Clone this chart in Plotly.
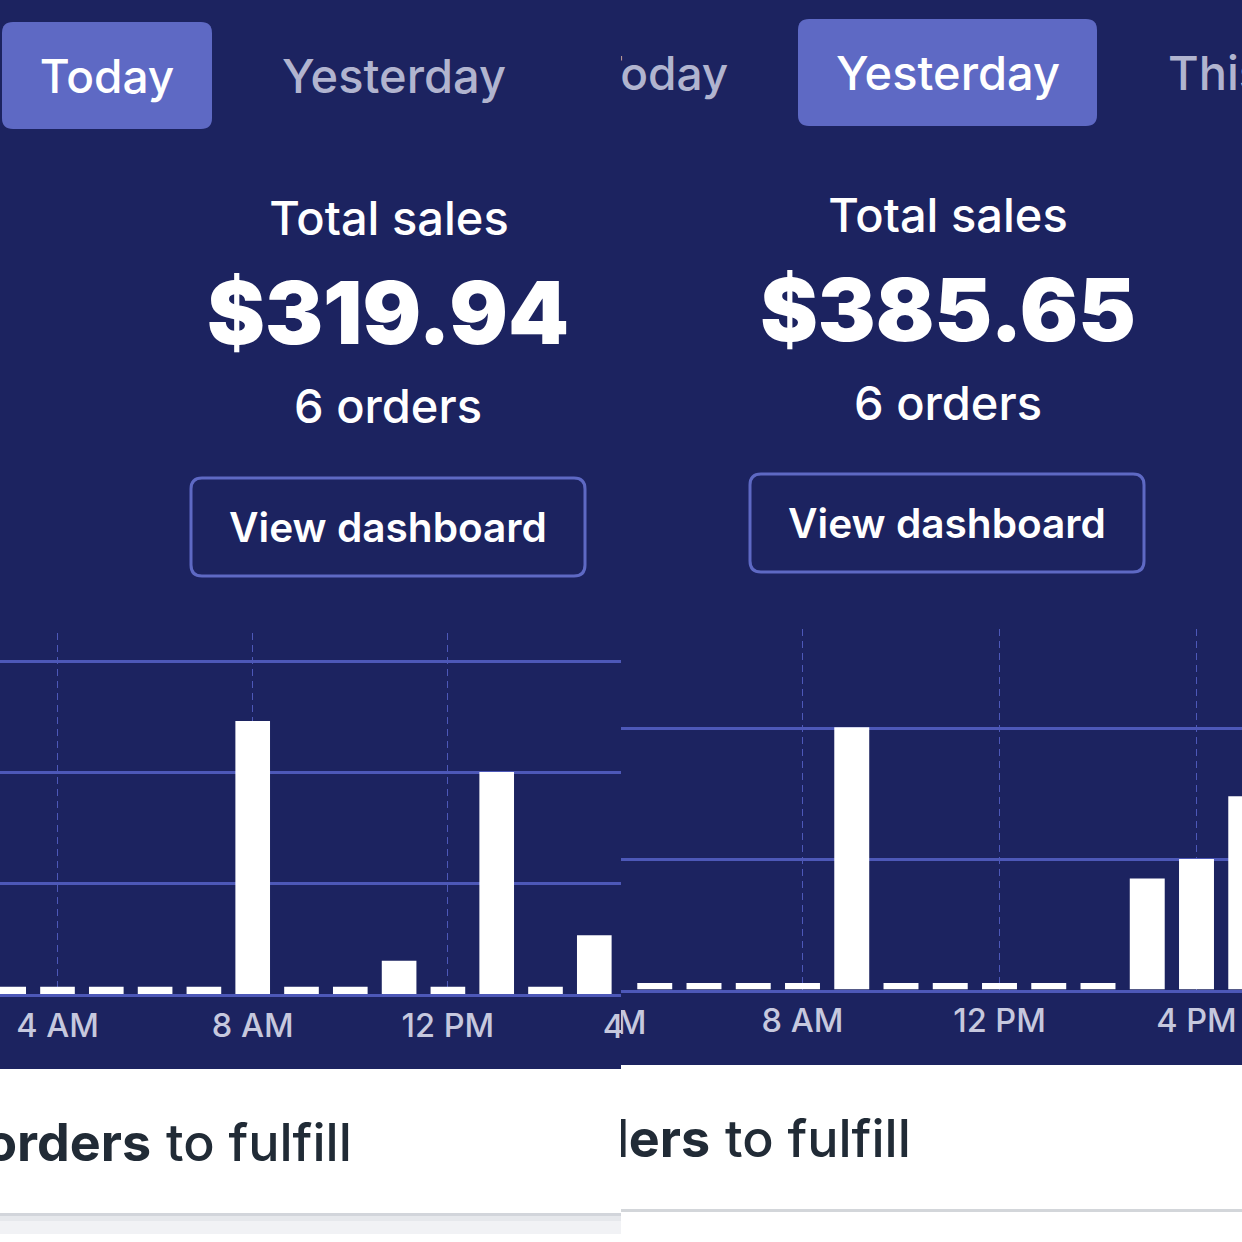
import plotly.graph_objects as go

# values
left_hours = [3, 4, 5, 6, 7, 8, 9, 10, 11, 12, 13, 14, 15]
left_sales = [3.3, 3.3, 3.3, 3.3, 3.3, 123, 3.3, 3.3, 15, 3.3, 100, 3.3, 26.5]
right_hours = [5, 6, 7, 8, 9, 10, 11, 12, 13, 14, 15, 16, 17]
right_sales = [2.5, 2.5, 2.5, 2.5, 100.5, 2.5, 2.5, 2.5, 2.5, 2.5, 42.5, 50, 74]

left_ticks = [4, 8, 12]
left_ticktext = ["4 AM", "8 AM", "12 PM"]
right_ticks = [8, 12, 16]
right_ticktext = ["8 AM", "12 PM", "4 PM"]
left_grid = [50, 100, 150]
right_grid = [50, 100]

NAVY = "#1c2360"
PILL = "#5e69c4"
GRID = "#4d58b8"
MUTED = "#b1b4cf"
DARK = "#212b36"
TICK = "#c6c8de"
W = 1242


def px_y(p):
    return 1 - p / W


def rounded(x0, y0, x1, y1, r):
    return (f"M {x0+r} {y0} L {x1-r} {y0} Q {x1} {y0} {x1} {y0+r} L {x1} {y1-r} Q {x1} {y1} {x1-r} {y1} "
            f"L {x0+r} {y1} Q {x0} {y1} {x0} {y1-r} L {x0} {y0+r} Q {x0} {y0} {x0+r} {y0} Z")


fig = go.Figure()


def add_text(axis, x, y, text, size, color="white", weight=500, pos="middle center"):
    # text as a trace so that it gets cut off at the panel edge like the screenshot
    xa, ya = axis
    fig.add_trace(go.Scatter(x=[x], y=[y], mode="text", text=[text], textposition=pos,
                             textfont=dict(size=size, color=color, family="Inter", weight=weight),
                             cliponaxis=True, xaxis=xa, yaxis=ya, showlegend=False, hoverinfo="skip"))


LEFT = ("x", "y")
RIGHT = ("x2", "y2")

add_text(LEFT, 107, 81, "Today", 46)
add_text(LEFT, 394, 81, "Yesterday", 47, MUTED)
add_text(LEFT, 389, 223, "Total sales", 47)
add_text(LEFT, 388, 322, "$319.94", 87, weight=900)
add_text(LEFT, 388, 411, "6 orders", 47)
add_text(LEFT, 388, 532, "View dashboard", 40.6, weight=600)
add_text(LEFT, 643, 1030, "4 PM", 32.5, TICK)
add_text(LEFT, 151, 1148, "6 orders", 52, DARK, weight=700, pos="middle left")
add_text(LEFT, 166, 1148, "to fulfill", 52, DARK, pos="middle right")

add_text(RIGHT, 661, 78, "Today", 46, MUTED)
add_text(RIGHT, 948, 78, "Yesterday", 47)
add_text(RIGHT, 1168, 78, "This week", 47, MUTED, pos="middle right")
add_text(RIGHT, 948, 220, "Total sales", 47)
add_text(RIGHT, 948, 319, "$385.65", 86.5, weight=900)
add_text(RIGHT, 948, 408, "6 orders", 47)
add_text(RIGHT, 947, 528, "View dashboard", 40.6, weight=600)
add_text(RIGHT, 605, 1026, "4 AM", 32.5, TICK)
add_text(RIGHT, 710, 1144, "6 orders", 52, DARK, weight=700, pos="middle left")
add_text(RIGHT, 725, 1144, "to fulfill", 52, DARK, pos="middle right")

# bars
fig.add_trace(go.Bar(x=left_hours, y=left_sales, marker=dict(color="white", line_width=0), width=0.71,
                     xaxis="x3", yaxis="y3", showlegend=False))
fig.add_trace(go.Bar(x=right_hours, y=right_sales, marker=dict(color="white", line_width=0), width=0.71,
                     xaxis="x4", yaxis="y4", showlegend=False))

shapes = [
    # panel backgrounds
    dict(type="rect", xref="x", yref="y", x0=0, x1=621, y0=0, y1=1069, fillcolor=NAVY, line_width=0, layer="below"),
    dict(type="rect", xref="x2", yref="y2", x0=621, x1=1242, y0=0, y1=1065, fillcolor=NAVY, line_width=0, layer="below"),
    # shadow under the left card, thin rule under the right one
    dict(type="rect", xref="x", yref="y", x0=0, x1=621, y0=1213, y1=1216, fillcolor="#d2d5db", line_width=0, layer="below"),
    dict(type="rect", xref="x", yref="y", x0=0, x1=621, y0=1216, y1=1221, fillcolor="#e6e8ec", line_width=0, layer="below"),
    dict(type="rect", xref="x", yref="y", x0=0, x1=621, y0=1221, y1=1234, fillcolor="#f1f2f5", line_width=0, layer="below"),
    dict(type="rect", xref="x2", yref="y2", x0=621, x1=1242, y0=1209, y1=1212, fillcolor="#d3d6da", line_width=0, layer="below"),
    # tab pills and buttons
    dict(type="path", xref="x", yref="y", path=rounded(2, 22, 212, 129, 11), fillcolor=PILL, line_width=0, layer="below"),
    dict(type="path", xref="x2", yref="y2", path=rounded(798, 19, 1097, 126, 11), fillcolor=PILL, line_width=0, layer="below"),
    dict(type="path", xref="x", yref="y", path=rounded(191, 478, 585, 576, 11), fillcolor="rgba(0,0,0,0)",
         line=dict(color=PILL, width=3), layer="below"),
    dict(type="path", xref="x2", yref="y2", path=rounded(750, 474, 1144, 572, 11), fillcolor="rgba(0,0,0,0)",
         line=dict(color=PILL, width=3), layer="below"),
]

# hours to panel pixels: 48.8 px per hour on the left, 49.25 on the right
left_range = [4 - 57.5 / 48.8, 4 + (621 - 57.5) / 48.8]
right_range = [8 - (802.5 - 621) / 49.25, 8 + (1242 - 802.5) / 49.25]
# dollars to panel pixels: baseline and 111 / 130.5 px per 50
left_top = 633
right_top = 629
left_base = 994
right_base = 989.5
left_yrange = [0, (left_base - left_top) / 111 * 50]
right_yrange = [0, (right_base - right_top) / 130.5 * 50]


def chart_x(domain, rng, ticks, labels, anchor):
    return dict(domain=domain, range=rng, tickmode="array", tickvals=ticks, ticktext=labels, showgrid=True,
                gridcolor=GRID, griddash="7px,5px", gridwidth=1.2, zeroline=False, showline=True, linecolor=GRID,
                linewidth=2.5, ticks="", tickfont=dict(size=32.5, color=TICK, family="Inter", weight=500),
                ticklabelstandoff=1, anchor=anchor)


def chart_y(domain, rng, ticks, anchor):
    return dict(domain=domain, range=rng, tickmode="array", tickvals=ticks, showticklabels=False, showgrid=True,
                gridcolor=GRID, gridwidth=3, zeroline=False, ticks="", anchor=anchor)


def pixel_axes(rng, overlay_domain, anchor_x, anchor_y):
    xa = dict(domain=overlay_domain, range=rng, visible=False, fixedrange=True, anchor=anchor_y)
    ya = dict(domain=[0, 1], range=[W, 0], visible=False, fixedrange=True, anchor=anchor_x)
    return xa, ya


x1, y1 = pixel_axes([0, 621], [0, 0.5], "x", "y")
x2, y2 = pixel_axes([621, 1242], [0.5, 1], "x2", "y2")

fig.update_layout(
    width=W, height=W,
    margin=dict(l=0, r=0, t=0, b=0),
    paper_bgcolor="white",
    plot_bgcolor="rgba(0,0,0,0)",
    showlegend=False,
    xaxis=x1,
    yaxis=y1,
    xaxis2=x2,
    yaxis2=y2,
    xaxis3=chart_x([0, 0.5], left_range, left_ticks, left_ticktext, "y3"),
    yaxis3=chart_y([px_y(left_base), px_y(left_top)], left_yrange, left_grid, "x3"),
    xaxis4=chart_x([0.5, 1], right_range, right_ticks, right_ticktext, "y4"),
    yaxis4=chart_y([px_y(right_base), px_y(right_top)], right_yrange, right_grid, "x4"),
    shapes=shapes,
)

fig.write_html("out.html", config={"displayModeBar": False}, post_script="document.body.style.margin='0';")
